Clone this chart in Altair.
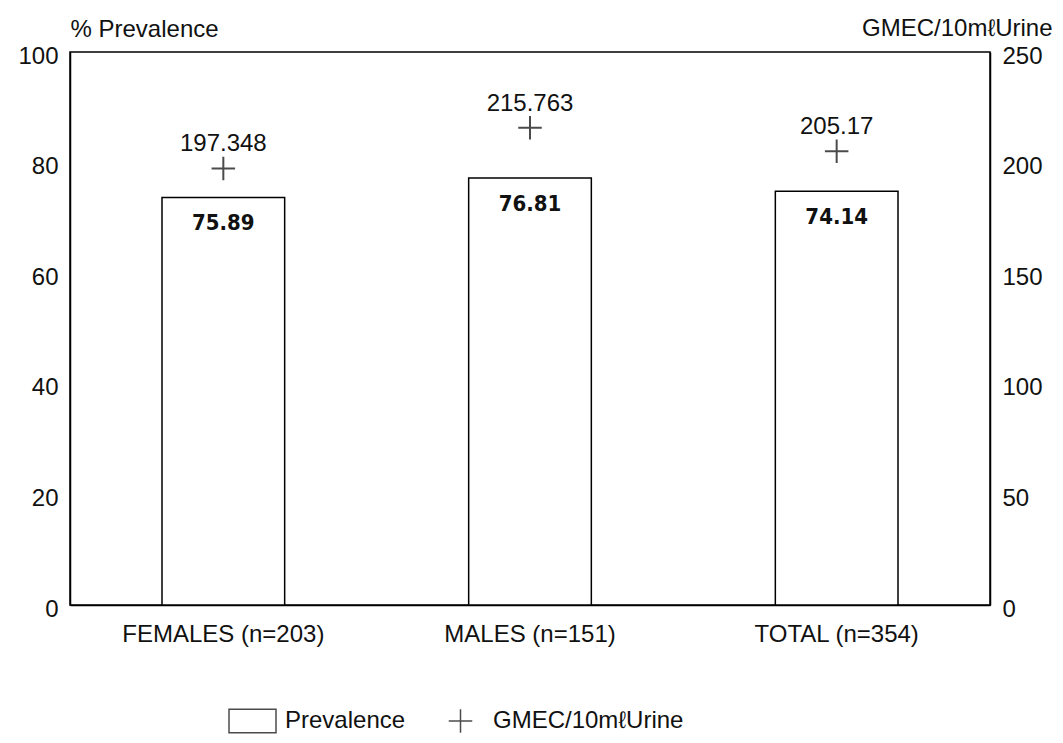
import altair as alt
import pandas as pd

groups = ["FEMALES (n=203)", "MALES (n=151)", "TOTAL (n=354)"]
bar_heights = [73.7, 77.2, 74.8]
prevalence_labels = ["75.89", "76.81", "74.14"]
gmec = [197.348, 215.763, 205.17]
gmec_labels = ["197.348", "215.763", "205.17"]
series_names = ["Prevalence", "GMEC/10mℓUrine"]
left_ticks = [0, 20, 40, 60, 80, 100]
right_ticks = [0, 50, 100, 150, 200, 250]

df = pd.DataFrame({
    "group": groups,
    "height": bar_heights,
    "plabel": prevalence_labels,
    "gmec": gmec,
    "glabel": gmec_labels,
    "series": [series_names[1]] * len(groups),
})

FONT = "Liberation Sans"
FS = 24

x = alt.X(
    "group:N", sort=groups, title=None,
    scale=alt.Scale(paddingInner=0.6, paddingOuter=0.3),
    axis=alt.Axis(labelAngle=0, labelFontSize=FS, labelFont=FONT, labelPadding=17,
                  labelLimit=400, ticks=False, domainColor="black", domainWidth=1.5,
                  labelColor="#111"),
)

yl_scale = alt.Scale(domain=[0, 100])
yr_scale = alt.Scale(domain=[0, 250])

left_axis = alt.Axis(values=left_ticks, title="% Prevalence", titleAngle=0,
                     titleAlign="left", titleBaseline="alphabetic", titleX=0, titleY=-16,
                     titleFontSize=FS, titleFont=FONT, titleFontWeight="normal",
                     titleColor="#111", labelFontSize=FS, labelFont=FONT,
                     labelPadding=12, labelOffset=4, ticks=False, grid=False,
                     domainColor="black", domainWidth=1.5, labelColor="#111")

right_axis = alt.Axis(orient="right", values=right_ticks, title="GMEC/10mℓUrine",
                      titleAngle=0, titleAlign="right", titleBaseline="alphabetic",
                      titleX=62, titleY=-17, titleFontSize=FS, titleFont=FONT,
                      titleFontWeight="normal", titleColor="#111",
                      labelFontSize=FS, labelFont=FONT, labelPadding=12, labelOffset=4,
                      ticks=False, grid=False, domainColor="black", domainWidth=1.5,
                      labelColor="#111")

bars = alt.Chart(df).mark_bar(fill="white", stroke="black", strokeWidth=1.5).encode(
    x=x,
    y=alt.Y("height:Q", scale=yl_scale, axis=left_axis),
)

bar_text = alt.Chart(df).mark_text(
    font="DejaVu Sans Condensed, Liberation Sans", fontWeight="bold", fontSize=22, dy=26,
    baseline="middle", color="#111"
).encode(
    x=x,
    y=alt.Y("height:Q", scale=yl_scale, axis=left_axis),
    text="plabel:N",
)

rect_path = "M-1,-0.5H1V0.5H-1Z"
plus_path = "M-0.5,0H0.5M0,-0.5V0.5"

points = alt.Chart(df).mark_point(filled=False, strokeWidth=2, size=2209, color="black").encode(
    x=x,
    y=alt.Y("gmec:Q", scale=yr_scale, axis=right_axis),
    shape=alt.Shape(
        "series:N",
        scale=alt.Scale(domain=series_names, range=[rect_path, plus_path]),
        legend=alt.Legend(orient="none", legendX=158, legendY=644, direction="horizontal",
                          title=None, labelFontSize=FS, labelFont=FONT, labelColor="#111",
                          labelLimit=400, symbolSize=2209, symbolStrokeColor="black",
                          symbolFillColor="white", symbolStrokeWidth=1.5,
                          columnPadding=30, labelOffset=8),
    ),
)

point_text = alt.Chart(df).mark_text(fontSize=FS, font=FONT, dy=-24, baseline="middle",
                                     color="#111").encode(
    x=x,
    y=alt.Y("gmec:Q", scale=yr_scale, axis=right_axis),
    text="glabel:N",
)

left = alt.layer(bars, bar_text)
right = alt.layer(points, point_text)

chart = alt.layer(left, right).resolve_scale(y="independent").properties(
    width=920, height=553,
    autosize=alt.AutoSizeParams(type="none"),
    padding={"left": 62, "top": 44, "right": 62, "bottom": 130},
    background="white",
).configure_view(stroke="black", strokeWidth=1.5)

chart.save("out.html", embed_options={"renderer": "svg", "actions": False})
